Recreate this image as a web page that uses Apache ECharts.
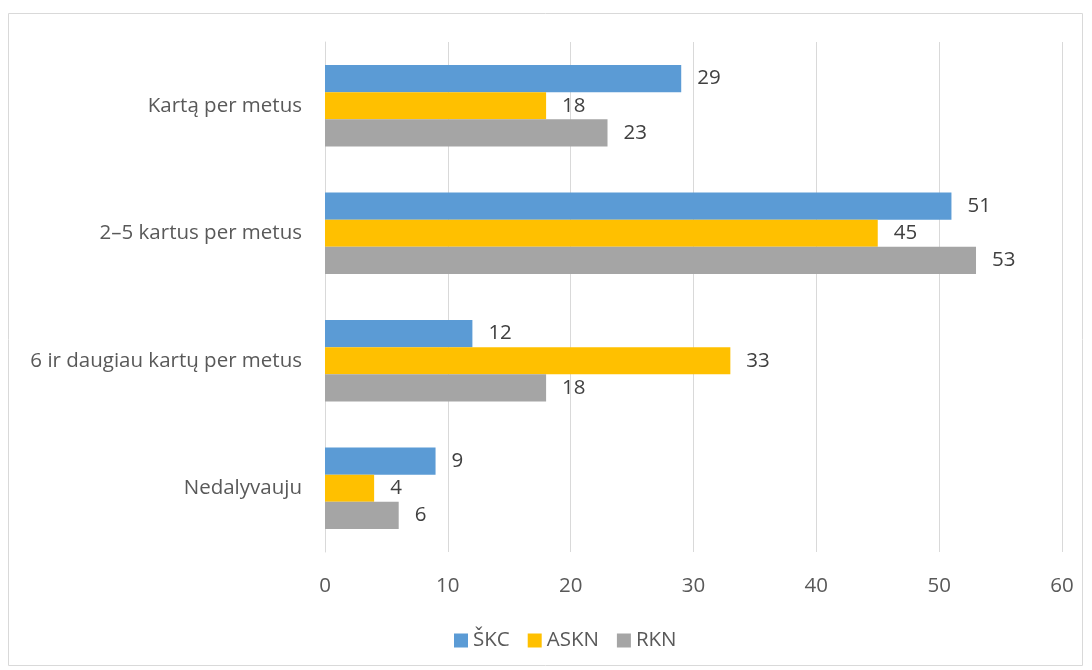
<!DOCTYPE html>
<html><head><meta charset="utf-8">
<script src="https://cdn.jsdelivr.net/npm/echarts@6/dist/echarts.min.js"></script>
<style>html,body{margin:0;padding:0;background:#fff}#c{width:1092px;height:670px}</style>
</head><body><div id="c"></div>
<script>
const categories = ["Kartą per metus", "2–5 kartus per metus", "6 ir daugiau kartų per metus", "Nedalyvauju"];
const skc = [29, 51, 12, 9];
const askn = [18, 45, 33, 4];
const rkn = [23, 53, 18, 6];
const seriesNames = ["ŠKC", "ASKN", "RKN"];
const colors = ["#5B9BD5", "#FFC000", "#A5A5A5"];
const font = "'Open Sans', 'Liberation Sans', sans-serif";
const chart = echarts.init(document.getElementById('c'));
const mk = (name, data, color) => ({
  name, type: 'bar', data, barGap: '0%', barCategoryGap: '36%',
  itemStyle: { color },
  label: { show: true, position: 'right', distance: 16, color: '#404040', fontSize: 20.5, fontFamily: font },
  emphasis: { disabled: true }
});
chart.setOption({
  animation: false,
  textStyle: { fontFamily: font },
  graphic: [{ type: 'rect', shape: { x: 8.5, y: 13.5, width: 1074, height: 652 }, style: { fill: 'none', stroke: '#d9d9d9', lineWidth: 1 } }],
  grid: { left: 325, right: 30, top: 42, bottom: 118 },
  xAxis: {
    type: 'value', min: 0, max: 60, interval: 10,
    axisLine: { show: false }, axisTick: { show: false },
    splitLine: { lineStyle: { color: '#d9d9d9', width: 1 } },
    axisLabel: { color: '#595959', fontSize: 20.5, fontFamily: font, margin: 24 }
  },
  yAxis: {
    type: 'category', data: categories, inverse: true,
    axisLine: { show: true, lineStyle: { color: '#d9d9d9' } }, axisTick: { show: false },
    axisLabel: { color: '#595959', fontSize: 20.5, fontFamily: font, margin: 23 }
  },
  legend: {
    bottom: 14, left: 449, itemWidth: 14, itemHeight: 14, itemGap: 18,
    icon: 'rect',
    textStyle: { color: '#595959', fontSize: 20.5, fontFamily: font },
    data: seriesNames
  },
  series: [mk(seriesNames[0], skc, colors[0]), mk(seriesNames[1], askn, colors[1]), mk(seriesNames[2], rkn, colors[2])]
});
</script></body></html>
